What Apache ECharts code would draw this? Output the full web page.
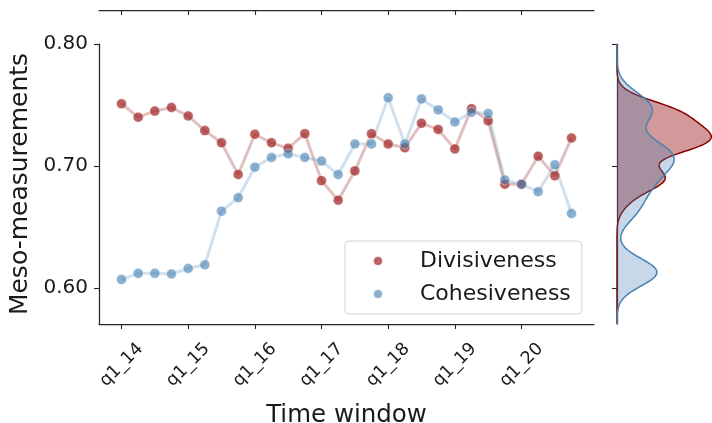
<!DOCTYPE html>
<html>
<head>
<meta charset="utf-8">
<script src="https://cdn.jsdelivr.net/npm/echarts@6/dist/echarts.min.js"></script>
<style>html,body{margin:0;padding:0;background:#fff}#c{width:712px;height:423px}</style>
</head>
<body>
<div id="c"></div>
<script>
const quarters = ['q1_14','q2_14','q3_14','q4_14','q1_15','q2_15','q3_15','q4_15','q1_16','q2_16','q3_16','q4_16','q1_17','q2_17','q3_17','q4_17','q1_18','q2_18','q3_18','q4_18','q1_19','q2_19','q3_19','q4_19','q1_20','q2_20','q3_20','q4_20'];
const tickIndices = [0, 4, 8, 12, 16, 20, 24];
const yTicks = [0.60, 0.70, 0.80];
const divisiveness = [0.751,0.740,0.745,0.748,0.741,0.729,0.719,0.693,0.726,0.719,0.7145,0.7265,0.688,0.672,0.696,0.7265,0.718,0.715,0.735,0.730,0.714,0.747,0.737,0.685,0.685,0.708,0.692,0.723];
const cohesiveness = [0.607,0.612,0.612,0.6115,0.616,0.619,0.663,0.674,0.699,0.707,0.710,0.707,0.704,0.693,0.718,0.718,0.756,0.718,0.755,0.746,0.736,0.744,0.743,0.6885,0.685,0.679,0.701,0.661];

const Y_MIN = 0.5705, Y_MAX = 0.80;
const X_MIN = -1.35, X_MAX = quarters.length - 1 + 1.35;
const FONT = 'DejaVu Sans';
const DIV_BW = 0.0088;
const COH_BW = 0.0105;

// Gaussian KDE of the data arrays
function kde(values, bw) {
  const n = values.length;
  const out = [];
  const steps = 240;
  for (let i = 0; i <= steps; i++) {
    const y = Y_MIN + (Y_MAX - Y_MIN) * i / steps;
    let s = 0;
    for (const v of values) { const z = (y - v) / bw; s += Math.exp(-0.5 * z * z); }
    out.push([s / (n * bw * Math.sqrt(2 * Math.PI)), y]);
  }
  return out;
}
const kdeDiv = kde(divisiveness, DIV_BW);
const kdeCoh = kde(cohesiveness, COH_BW);
const densMax = Math.max(...kdeDiv.map(p => p[0]), ...kdeCoh.map(p => p[0])) * 1.05;

const pairs = arr => arr.map((v, i) => [i, v]);

function kdeSeries(curve, fill, stroke, z) {
  return {
    type: 'custom', xAxisIndex: 1, yAxisIndex: 1, z: z, silent: true,
    data: [[0, Y_MIN]],
    renderItem: function (params, api) {
      const pts = curve.map(p => api.coord([p[0], p[1]]));
      const base = [api.coord([0, curve[curve.length - 1][1]]), api.coord([0, curve[0][1]])];
      return {
        type: 'group',
        children: [
          { type: 'polygon', shape: { points: pts.concat(base) }, style: { fill: fill, stroke: null } },
          { type: 'polyline', shape: { points: pts }, style: { stroke: stroke, lineWidth: 1.5, fill: null } }
        ]
      };
    }
  };
}

const axisLineStyle = { color: '#262626', width: 1.25 };
const tickStyle = { color: '#262626', width: 1.1 };

const chart = echarts.init(document.getElementById('c'), null, { renderer: 'canvas' });
chart.setOption({
  animation: false,
  backgroundColor: '#fff',
  textStyle: { fontFamily: FONT },
  grid: [
    { left: 99, top: 44, width: 495, height: 280, outerBoundsMode: 'none', containLabel: false },
    { left: 617, top: 44, width: 99, height: 280, outerBoundsMode: 'none', containLabel: false },
    { left: 99, top: 0, width: 495, height: 10, outerBoundsMode: 'none', containLabel: false }
  ],
  xAxis: [
    {
      type: 'value', gridIndex: 0, min: X_MIN, max: X_MAX,
      name: 'Time window', nameLocation: 'middle', nameGap: 79,
      nameTextStyle: { fontSize: 24.5, color: '#1a1a1a', fontFamily: FONT },
      axisLine: { show: true, onZero: false, lineStyle: axisLineStyle },
      axisTick: { show: true, length: 5, lineStyle: tickStyle, customValues: tickIndices },
      axisLabel: {
        show: true, customValues: tickIndices, rotate: 45, margin: 41,
        align: 'center', verticalAlign: 'middle',
        fontSize: 17.5, color: '#1a1a1a', fontFamily: FONT,
        formatter: v => quarters[Math.round(v)]
      },
      splitLine: { show: false }
    },
    { type: 'value', gridIndex: 1, min: 0, max: densMax, show: false },
    {
      type: 'value', gridIndex: 2, min: X_MIN, max: X_MAX,
      axisLine: { show: true, onZero: false, lineStyle: axisLineStyle },
      axisTick: { show: true, length: 5, lineStyle: tickStyle, customValues: tickIndices },
      axisLabel: { show: false },
      splitLine: { show: false }
    }
  ],
  yAxis: [
    {
      type: 'value', gridIndex: 0, min: Y_MIN, max: Y_MAX,
      name: 'Meso-measurements', nameLocation: 'middle', nameGap: 64, nameRotate: 90,
      nameTextStyle: { fontSize: 25, color: '#1a1a1a', fontFamily: FONT },
      axisLine: { show: true, onZero: false, lineStyle: axisLineStyle },
      axisTick: { show: true, length: 5, lineStyle: tickStyle, customValues: yTicks },
      axisLabel: {
        show: true, customValues: yTicks, margin: 11,
        fontSize: 20, color: '#1a1a1a', fontFamily: FONT,
        formatter: v => v.toFixed(2)
      },
      splitLine: { show: false }
    },
    {
      type: 'value', gridIndex: 1, min: Y_MIN, max: Y_MAX,
      axisLine: { show: true, onZero: false, lineStyle: axisLineStyle },
      axisTick: { show: true, length: 5, lineStyle: tickStyle, customValues: yTicks },
      axisLabel: { show: false },
      splitLine: { show: false }
    },
    { type: 'value', gridIndex: 2, min: 0, max: 1, show: false }
  ],
  legend: {
    data: ['Divisiveness', 'Cohesiveness'],
    orient: 'vertical', left: 345, top: 241,
    backgroundColor: '#fff', borderColor: '#d4d4d4', borderWidth: 1, borderRadius: 4,
    padding: [9, 11, 9, 27], itemGap: 11, itemWidth: 10, itemHeight: 10, icon: 'circle',
    textStyle: { fontSize: 22, color: '#1a1a1a', fontFamily: FONT, padding: [0, 0, 0, 32], lineHeight: 22 }
  },
  series: [
    {
      type: 'line', name: 'divLine', xAxisIndex: 0, yAxisIndex: 0, data: pairs(divisiveness),
      symbol: 'none', lineStyle: { color: 'rgba(139,0,0,0.25)', width: 3 }, z: 2, silent: true
    },
    {
      type: 'line', name: 'cohLine', xAxisIndex: 0, yAxisIndex: 0, data: pairs(cohesiveness),
      symbol: 'none', lineStyle: { color: 'rgba(70,130,180,0.25)', width: 3 }, z: 2, silent: true
    },
    {
      type: 'scatter', name: 'Divisiveness', xAxisIndex: 0, yAxisIndex: 0, data: pairs(divisiveness),
      symbol: 'circle', symbolSize: 10, z: 3,
      itemStyle: { color: 'rgba(160,30,30,0.88)', borderColor: '#fff', borderWidth: 0.5 }
    },
    {
      type: 'scatter', name: 'Cohesiveness', xAxisIndex: 0, yAxisIndex: 0, data: pairs(cohesiveness),
      symbol: 'circle', symbolSize: 10, z: 4,
      itemStyle: { color: 'rgba(70,130,180,0.78)', borderColor: '#fff', borderWidth: 0.5 }
    },
    kdeSeries(kdeDiv, 'rgba(139,0,0,0.4)', '#8b0000', 2),
    kdeSeries(kdeCoh, 'rgba(70,130,180,0.3)', '#4682b4', 3)
  ]
});
</script>
</body>
</html>
